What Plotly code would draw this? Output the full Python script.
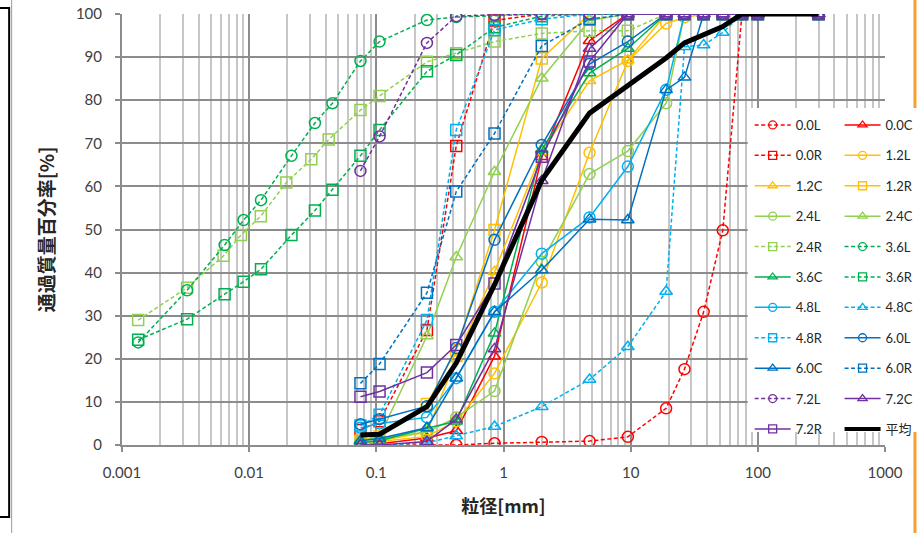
import plotly.graph_objects as go

# ---------------- data ----------------
sieve_mm = [0.075, 0.106, 0.25, 0.425, 0.85, 2, 4.75, 9.5, 19, 26.5, 37.5, 53, 75, 100, 300]

p00L = [0, 0, 0, 0, 0.4, 0.7, 0.9, 1.9, 8.5, 17.6, 30.9, 49.8, 100, 100, 100]
p00C = [0, 0.3, 1.6, 3.3, 20.6, 66.9, 93.8, 100, 100, 100, 100, 100, 100, 100, 100]
p00R = [3.5, 5.5, 26.7, 69.4, 98.5, 100, 100, 100, 100, 100, 100, 100, 100, 100, 100]
p12L = [0.5, 0.8, 2.0, 5.5, 16.6, 37.7, 67.8, 89.1, 97.8, 99.2, 100, 100, 100, 100, 100]
p12C = [0.5, 1.0, 3.0, 20.0, 40.2, 68.0, 84.5, 89.3, 100, 100, 100, 100, 100, 100, 100]
p12R = [1.0, 2.0, 9.5, 22.0, 49.9, 89.7, 100, 100, 100, 100, 100, 100, 100, 100, 100]
p24L = [1.0, 1.5, 3.0, 6.4, 12.5, 42.5, 62.9, 68.2, 79.3, 100, 100, 100, 100, 100, 100]
p24C = [1.0, 2.0, 25.3, 43.6, 63.4, 85.1, 98.5, 100, 100, 100, 100, 100, 100, 100, 100]
p24R = [77.7, 81.0, 88.9, 90.9, 93.6, 95.5, 96.1, 96.1, 100, 100, 100, 100, 100, 100, 100]
p36L = [89.1, 93.6, 98.6, 99.3, 99.6, 100, 100, 100, 100, 100, 100, 100, 100, 100, 100]
p36C = [0.5, 1.0, 3.9, 5.5, 25.9, 68.5, 86.3, 92.0, 100, 100, 100, 100, 100, 100, 100]
p36R = [67.1, 73.1, 86.7, 90.5, 96.9, 99.5, 100, 100, 100, 100, 100, 100, 100, 100, 100]
p48L = [4.0, 5.0, 6.4, 15.5, 30.9, 44.4, 52.8, 64.6, 82.4, 100, 100, 100, 100, 100, 100]
p48C = [0, 0, 0.5, 2.1, 4.3, 8.9, 15.2, 22.8, 35.6, 92.4, 92.8, 95.7, 100, 100, 100]
p48R = [4.5, 7.0, 29.0, 73.1, 96.3, 98.8, 100, 100, 100, 100, 100, 100, 100, 100, 100]
p60L = [4.8, 6.0, 9.0, 22.5, 47.6, 69.6, 88.4, 93.6, 100, 100, 100, 100, 100, 100, 100]
p60C = [1.0, 1.5, 4.0, 15.5, 30.9, 40.6, 52.4, 52.2, 82.4, 85.3, 100, 100, 100, 100, 100]
p60R = [14.3, 18.8, 35.3, 58.8, 72.3, 92.6, 98.8, 100, 100, 100, 100, 100, 100, 100, 100]
p72L = [63.6, 71.6, 93.3, 99.5, 99.8, 100, 100, 100, 100, 100, 100, 100, 100, 100, 100]
p72C = [0, 0, 0.8, 6.0, 22.3, 61.3, 92.0, 100, 100, 100, 100, 100, 100, 100, 100]
p72R = [11.2, 12.4, 16.8, 23.2, 37.5, 66.9, 89.0, 100, 100, 100, 100, 100, 100, 100, 100]
p_avg = [2.3, 2.5, 8.9, 19.0, 37.2, 61.4, 77.0, 83.3, 89.8, 93.3, 95.3, 97.1, 100, 100, 100]

# hydrometer (fine fraction) data
hyd24R_mm = [0.00134, 0.00325, 0.00629, 0.00861, 0.01235, 0.0196, 0.0308, 0.0422]
hyd24R_p = [29.0, 36.5, 43.9, 48.7, 53.1, 60.9, 66.3, 70.9]
hyd36L_mm = [0.00134, 0.00325, 0.00641, 0.00904, 0.01239, 0.0215, 0.0329, 0.0452]
hyd36L_p = [23.8, 35.9, 46.4, 52.2, 56.8, 67.1, 74.7, 79.3]
hyd36R_mm = [0.00134, 0.00325, 0.00641, 0.00904, 0.01239, 0.0215, 0.0329, 0.0452]
hyd36R_p = [24.4, 29.2, 35.0, 37.9, 40.8, 48.7, 54.4, 59.2]

x_tickvals = [0.001, 0.01, 0.1, 1, 10, 100, 1000]
x_ticktext = ["0.001", "0.01", "0.1", "1", "10", "100", "1000"]
y_tickvals = [0, 10, 20, 30, 40, 50, 60, 70, 80, 90, 100]

# ---------------- styles ----------------
RED, ORG, LGR, GRN, LBL, BLU, PUR = "#FF0000", "#FFC000", "#92D050", "#00B050", "#00B0F0", "#0070C0", "#7030A0"
DASH = "4px,2.5px"

series = [
    # name, x, y, color, dash, symbol, legend
    ("0.0L", sieve_mm, p00L, RED, DASH, "circle-open", "legend"),
    ("0.0C", sieve_mm, p00C, RED, "solid", "triangle-up-open", "legend2"),
    ("0.0R", sieve_mm, p00R, RED, DASH, "square-open", "legend"),
    ("1.2L", sieve_mm, p12L, ORG, "solid", "circle-open", "legend2"),
    ("1.2C", sieve_mm, p12C, ORG, "solid", "triangle-up-open", "legend"),
    ("1.2R", sieve_mm, p12R, ORG, "solid", "square-open", "legend2"),
    ("2.4L", sieve_mm, p24L, LGR, "solid", "circle-open", "legend"),
    ("2.4C", sieve_mm, p24C, LGR, "solid", "triangle-up-open", "legend2"),
    ("2.4R", hyd24R_mm + sieve_mm, hyd24R_p + p24R, LGR, DASH, "square-open", "legend"),
    ("3.6L", hyd36L_mm + sieve_mm, hyd36L_p + p36L, GRN, DASH, "circle-open", "legend2"),
    ("3.6C", sieve_mm, p36C, GRN, "solid", "triangle-up-open", "legend"),
    ("3.6R", hyd36R_mm + sieve_mm, hyd36R_p + p36R, GRN, DASH, "square-open", "legend2"),
    ("4.8L", sieve_mm, p48L, LBL, "solid", "circle-open", "legend"),
    ("4.8C", sieve_mm, p48C, LBL, DASH, "triangle-up-open", "legend2"),
    ("4.8R", sieve_mm, p48R, LBL, DASH, "square-open", "legend"),
    ("6.0L", sieve_mm, p60L, BLU, "solid", "circle-open", "legend2"),
    ("6.0C", sieve_mm, p60C, BLU, "solid", "triangle-up-open", "legend"),
    ("6.0R", sieve_mm, p60R, BLU, DASH, "square-open", "legend2"),
    ("7.2L", sieve_mm, p72L, PUR, DASH, "circle-open", "legend"),
    ("7.2C", sieve_mm, p72C, PUR, "solid", "triangle-up-open", "legend2"),
    ("7.2R", sieve_mm, p72R, PUR, "solid", "square-open", "legend"),
]

fig = go.Figure()
for name, xs, ys, col, dash, sym, lg in series:
    fig.add_trace(go.Scatter(
        x=xs, y=ys, name=name, mode="lines+markers", showlegend=False,
        line=dict(color=col, width=1.5, dash=dash),
        marker=dict(symbol=sym, size=11, color=col, line=dict(width=1.5, color=col)),
        hoverinfo="x+y+name"))
fig.add_trace(go.Scatter(x=sieve_mm, y=p_avg, name="平均", mode="lines", showlegend=False,
                         line=dict(color="black", width=5)))

# legend-only entries (two columns)
for name, xs, ys, col, dash, sym, lg in series:
    fig.add_trace(go.Scatter(
        x=[None], y=[None], name=name, mode="lines+markers", legend=lg, legendgroup=name,
        line=dict(color=col, width=1.5, dash=dash),
        marker=dict(symbol=sym, size=8, color=col, line=dict(width=1.3, color=col))))
fig.add_trace(go.Scatter(x=[None], y=[None], name="平均", mode="lines", legend="legend2",
                         legendgroup="avg", line=dict(color="black", width=4)))

L, R, T, B = 121.5, 35.5, 14, 88
W, H = 921, 533
PW, PH = W - L - R, H - T - B


def px2x(px):
    return (px - L) / PW


def px2y(py):
    return (H - B - py) / PH


GRID_MAJ = "#8C8C8C"
GRID_MIN = "#C6C6C6"
TICKFONT = dict(family="Lato, Carlito, Calibri, sans-serif", size=15, color="#404040")
XTITLEFONT = dict(family="Noto Sans CJK JP, sans-serif", size=18, color="#262626")
YTITLEFONT = dict(family="Noto Sans CJK JP, sans-serif", size=19, color="#262626")

minor_vals = [k * 10 ** e for e in range(-3, 3) for k in range(2, 10)]

shapes = [
    # orange frame line at right edge (partially hidden by legend)
    dict(type="line", xref="paper", yref="paper", x0=px2x(915.5), x1=px2x(915.5),
         y0=px2y(533), y1=px2y(0), line=dict(color="#F7A030", width=3), layer="above"),
    # white legend box
    dict(type="rect", xref="paper", yref="paper", x0=px2x(748), x1=px2x(925),
         y0=px2y(432), y1=px2y(108), fillcolor="white", line=dict(width=0), layer="above"),
    # left frame decorations
    dict(type="path", xref="paper", yref="paper",
         path=f"M {px2x(-2)},{px2y(8)} L {px2x(8.5)},{px2y(8)} L {px2x(8.5)},{px2y(517)} L {px2x(-2)},{px2y(517)}",
         line=dict(color="black", width=2), layer="above"),
    dict(type="line", xref="paper", yref="paper", x0=px2x(11), x1=px2x(11),
         y0=px2y(533), y1=px2y(0), line=dict(color="#9A9A9A", width=1), layer="above"),
]

legend_common = dict(
    xref="paper", yref="paper", yanchor="top", xanchor="left",
    bgcolor="rgba(0,0,0,0)", borderwidth=0,
    font=dict(family="Lato, Noto Sans CJK JP, sans-serif", size=13, color="#262626"),
    traceorder="grouped", tracegroupgap=10.5, itemwidth=36, itemclick=False,
)

fig.update_layout(
    width=W, height=H,
    margin=dict(l=L, r=R, t=T, b=B, autoexpand=False),
    paper_bgcolor="white", plot_bgcolor="white",
    showlegend=True,
    legend=dict(x=px2x(750), y=px2y(110), **legend_common),
    legend2=dict(x=px2x(840), y=px2y(110), **legend_common),
    shapes=shapes,
    xaxis=dict(
        type="log", range=[-3, 3], tickmode="array", tickvals=x_tickvals, ticktext=x_ticktext,
        showgrid=True, gridcolor=GRID_MAJ, gridwidth=2,
        minor=dict(tickmode="array", tickvals=minor_vals, showgrid=True, gridcolor=GRID_MIN,
                   gridwidth=2, ticks=""),
        showline=True, linecolor=GRID_MAJ, linewidth=2,
        ticks="outside", ticklen=5, tickwidth=2, tickcolor=GRID_MAJ,
        tickfont=TICKFONT, ticklabelstandoff=8, zeroline=False, automargin=False,
        title=dict(text="<b>粒径[mm]</b>", font=XTITLEFONT, standoff=20),
    ),
    yaxis=dict(
        range=[0, 100], tickmode="array", tickvals=y_tickvals,
        showgrid=True, gridcolor=GRID_MAJ, gridwidth=2,
        showline=True, linecolor=GRID_MAJ, linewidth=2,
        ticks="outside", ticklen=5, tickwidth=2, tickcolor=GRID_MAJ,
        tickfont=TICKFONT, ticklabelstandoff=10, zeroline=False, automargin=False,
        title=dict(text="<b>通過質量百分率[%]</b>", font=YTITLEFONT, standoff=16),
    ),
)

fig.write_html("out.html")
